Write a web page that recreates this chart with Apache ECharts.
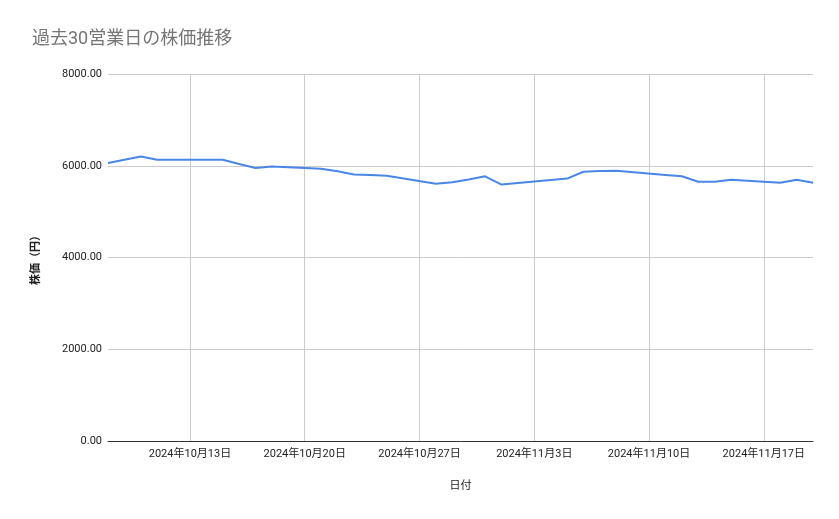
<!DOCTYPE html>
<html>
<head>
<meta charset="utf-8">
<script src="https://cdn.jsdelivr.net/npm/echarts@6/dist/echarts.min.js"></script>
<style>
  html, body { margin: 0; padding: 0; background: #fff; }
  #chart { width: 839px; height: 519px; }
</style>
</head>
<body>
<div id="chart"></div>
<script>
// business days (JP holidays 10/14 and 11/4 skipped)
const dates = [
  '2024-10-08', '2024-10-09', '2024-10-10', '2024-10-11',
  '2024-10-15', '2024-10-16', '2024-10-17', '2024-10-18',
  '2024-10-21', '2024-10-22', '2024-10-23', '2024-10-24', '2024-10-25',
  '2024-10-28', '2024-10-29', '2024-10-30', '2024-10-31', '2024-11-01',
  '2024-11-05', '2024-11-06', '2024-11-07', '2024-11-08',
  '2024-11-11', '2024-11-12', '2024-11-13', '2024-11-14', '2024-11-15',
  '2024-11-18', '2024-11-19', '2024-11-20'
];
const prices = [
  6060, 6130, 6200, 6130,
  6130, 6040, 5950, 5985,
  5935, 5880, 5810, 5800, 5780,
  5610, 5640, 5700, 5770, 5590,
  5720, 5870, 5885, 5890,
  5800, 5770, 5650, 5650, 5695,
  5630, 5695, 5630
];
const weekTicks = ['2024-10-13', '2024-10-20', '2024-10-27', '2024-11-03', '2024-11-10', '2024-11-17'];

const ts = s => { const p = s.split('-'); return new Date(+p[0], +p[1] - 1, +p[2]).getTime(); };
const fmtDate = v => { const d = new Date(v); return d.getFullYear() + '年' + (d.getMonth() + 1) + '月' + d.getDate() + '日'; };
const font = 'Roboto, "Noto Sans CJK JP", sans-serif';

const chart = echarts.init(document.getElementById('chart'));
chart.setOption({
  animation: false,
  textStyle: { fontFamily: font },
  title: {
    text: '過去30営業日の株価推移',
    left: 27, top: 26,
    textStyle: { fontSize: 18, color: '#757575', fontWeight: 'normal', fontFamily: font }
  },
  grid: { left: 108, right: 26, top: 74, bottom: 78 },
  xAxis: {
    type: 'value',
    min: ts('2024-10-08'),
    max: ts('2024-11-20'),
    name: '日付',
    nameLocation: 'middle',
    nameGap: 40,
    nameTextStyle: { fontSize: 11, color: '#222' },
    axisLine: { lineStyle: { color: '#333' } },
    axisTick: { show: false },
    splitLine: { show: false },
    axisLabel: {
      customValues: weekTicks.map(ts),
      formatter: v => fmtDate(v),
      color: '#222', fontSize: 11, margin: 8
    }
  },
  yAxis: {
    type: 'value',
    min: 0, max: 8000, interval: 2000,
    name: '株価（円）',
    nameLocation: 'middle',
    nameGap: 66,
    nameTextStyle: { fontSize: 11, color: '#222', fontWeight: 'bold' },
    axisLine: { show: false },
    axisTick: { show: false },
    splitLine: { lineStyle: { color: '#cccccc' } },
    axisLabel: { formatter: v => v.toFixed(2), color: '#222', fontSize: 11, margin: 6 }
  },
  series: [{
    type: 'line',
    data: dates.map((d, i) => [ts(d), prices[i]]),
    showSymbol: false,
    lineStyle: { color: '#4a86e8', width: 2 },
    itemStyle: { color: '#4a86e8' },
    markLine: {
      silent: true,
      symbol: 'none',
      label: { show: false },
      lineStyle: { color: '#cccccc', type: 'solid', width: 1 },
      data: weekTicks.map(w => ({ xAxis: ts(w) })),
      z: 1
    }
  }]
});
</script>
</body>
</html>
